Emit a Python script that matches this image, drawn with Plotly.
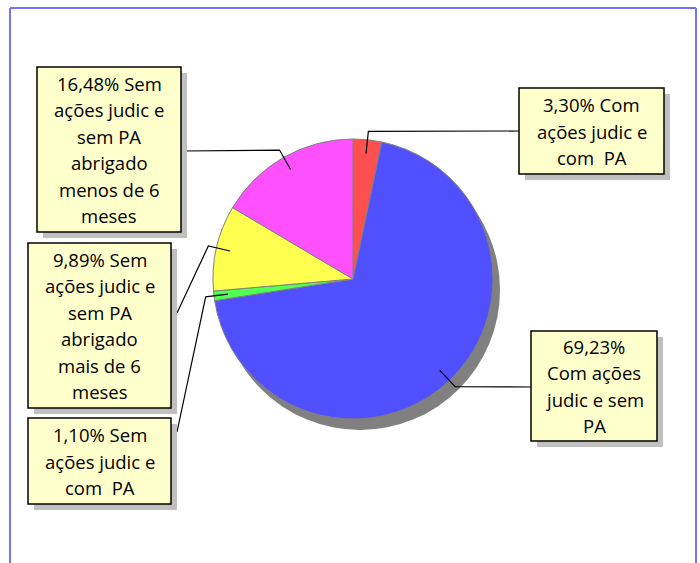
import math
import plotly.graph_objects as go

W, H = 700, 563

# ---- data ----
categories = [
    "Com ações judic e com  PA",
    "Com ações judic e sem PA",
    "Sem ações judic e com  PA",
    "Sem ações judic e sem PA abrigado mais de 6 meses",
    "Sem ações judic e sem PA abrigado menos de 6 meses",
]
counts = [3, 63, 1, 9, 15]
colors = ["#FF5050", "#5050FF", "#50FF50", "#FFFF50", "#FF50FF"]
# label text as wrapped in the chart (after the percentage)
wrapped = [
    ["Com", "ações judic e", "com  PA"],
    ["", "Com ações", "judic e sem", "PA"],
    ["Sem", "ações judic e", "com  PA"],
    ["Sem", "ações judic e", "sem PA", "abrigado", "mais de 6", "meses"],
    ["Sem", "ações judic e", "sem PA", "abrigado", "menos de 6", "meses"],
]

total = sum(counts)
pct = [c / total * 100 for c in counts]
pct_txt = [f"{p:.2f}%".replace(".", ",") for p in pct]

# ---- layout geometry (pixels) ----
cx, cy, R = 353, 279, 140
shadow_dx, shadow_dy = 7, 11
# boxes: x0, y0, x1, y1
boxes = [
    (519, 88, 664, 174),
    (531, 331, 657, 441),
    (28, 418, 171, 504),
    (28, 243, 171, 408),
    (37, 67, 181, 232),
]
# where the leader line touches the box
anchors = [(519, 131), (531, 387), (177, 432), (177, 313), (181, 151)]


def px(x):
    return x / W


def py(y):
    return 1 - y / H


fig = go.Figure()

# shadow pie
fig.add_trace(go.Pie(
    values=[total], marker=dict(colors=["#808080"], line=dict(width=0)),
    textinfo="none", hoverinfo="skip", sort=False, showlegend=False,
    domain=dict(x=[px(cx - R + shadow_dx), px(cx + R + shadow_dx)],
                y=[py(cy + R + shadow_dy), py(cy - R + shadow_dy)]),
))

fig.add_trace(go.Pie(
    labels=categories, values=counts, sort=False, direction="clockwise",
    rotation=0, textinfo="none", hoverinfo="label+percent", showlegend=False,
    marker=dict(colors=colors, line=dict(color="#808080", width=1)),
    domain=dict(x=[px(cx - R), px(cx + R)], y=[py(cy + R), py(cy - R)]),
))

shapes = []
annotations = []

# frame
frame_col = "#7373FF"
shapes.append(dict(type="line", xref="paper", yref="paper", x0=px(10), y0=py(8), x1=px(696), y1=py(8),
                   line=dict(color=frame_col, width=2)))
shapes.append(dict(type="line", xref="paper", yref="paper", x0=px(10), y0=py(8), x1=px(10), y1=py(563),
                   line=dict(color=frame_col, width=2)))
shapes.append(dict(type="line", xref="paper", yref="paper", x0=px(696), y0=py(8), x1=px(696), y1=py(563),
                   line=dict(color=frame_col, width=2)))

# leader lines computed from slice mid-angles
cum = 0
for i, c in enumerate(counts):
    mid = (cum + c / 2) / total * 2 * math.pi
    cum += c
    sx, sy = math.sin(mid), -math.cos(mid)
    p1 = (cx + 0.9 * R * sx, cy + 0.9 * R * sy)
    p2 = (cx + 1.06 * R * sx, cy + 1.06 * R * sy)
    p3 = anchors[i]
    path = f"M{px(p1[0])},{py(p1[1])} L{px(p2[0])},{py(p2[1])} L{px(p3[0])},{py(p3[1])}"
    shapes.append(dict(type="path", xref="paper", yref="paper", path=path,
                       line=dict(color="black", width=1.2)))

# label boxes
for i, (x0, y0, x1, y1) in enumerate(boxes):
    shapes.append(dict(type="rect", xref="paper", yref="paper",
                       x0=px(x0 + 6), y0=py(y1 + 6), x1=px(x1 + 6), y1=py(y0 + 6),
                       fillcolor="#C0C0C0", line=dict(width=0)))
    shapes.append(dict(type="rect", xref="paper", yref="paper",
                       x0=px(x0), y0=py(y1), x1=px(x1), y1=py(y0),
                       fillcolor="#FFFFCC", line=dict(color="black", width=1.5)))
    lines = list(wrapped[i])
    if lines[0]:
        lines[0] = pct_txt[i] + " " + lines[0]
    else:
        lines[0] = pct_txt[i]
    n = len(lines)
    spacing = 26.4
    ymid = (y0 + y1) / 2
    xmid = (x0 + x1) / 2
    for k, t in enumerate(lines):
        yy = ymid + (k - (n - 1) / 2) * spacing
        annotations.append(dict(x=px(xmid), y=py(yy), xref="paper", yref="paper",
                                text=t, showarrow=False, xanchor="center", yanchor="middle",
                                font=dict(family="Open Sans", size=18.5, color="black")))

fig.update_layout(
    width=W, height=H, margin=dict(l=0, r=0, t=0, b=0),
    paper_bgcolor="white", plot_bgcolor="white",
    shapes=shapes, annotations=annotations, showlegend=False,
)

fig.write_html("out.html", config={"displayModeBar": False},
               post_script="document.body.style.margin='0px';")
